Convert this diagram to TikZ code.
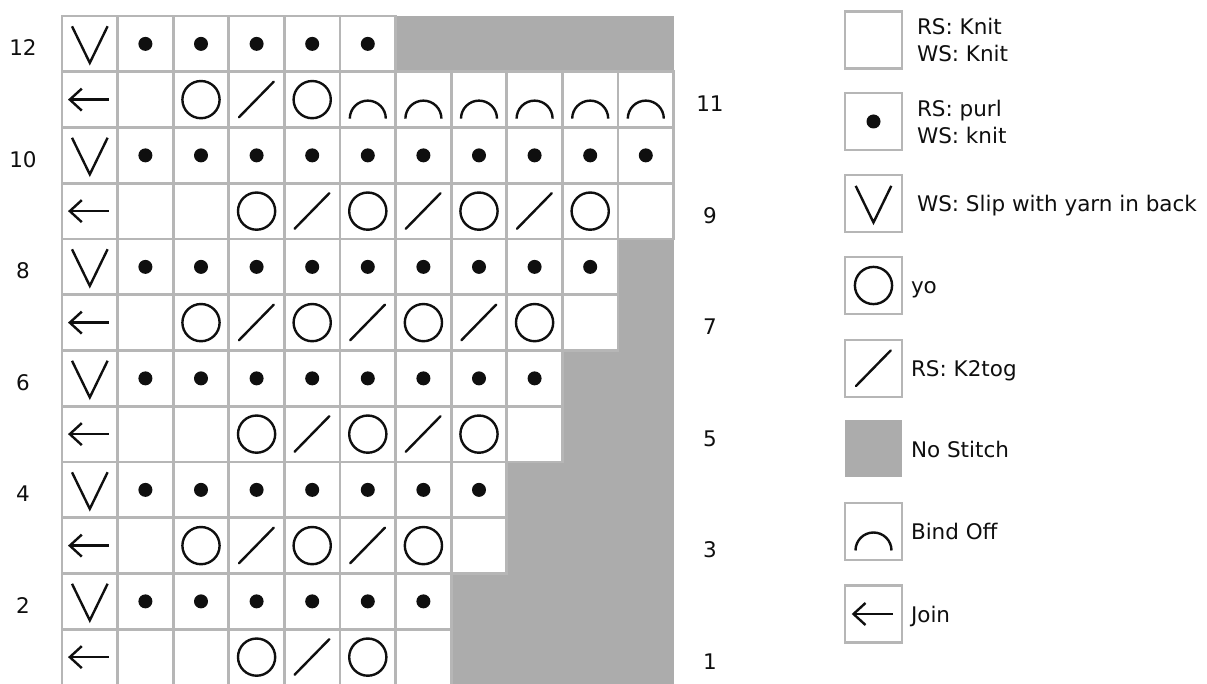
\documentclass[tikz,border=0pt]{standalone}
\usepackage{fontspec}
\setmainfont{DejaVu Sans}
\definecolor{gridc}{RGB}{182,182,182}
\definecolor{nost}{RGB}{172,172,172}
\definecolor{ink}{RGB}{15,15,15}
\tikzset{
  sym/.style={draw=ink, line width=1.2pt},
  cellbase/.style={minimum width=27.8pt, minimum height=27.875pt, inner sep=0pt, outer sep=0pt},
  whitecell/.style={cellbase, fill=white},
  graycell/.style={cellbase, fill=nost},
  cf-V/.style={whitecell}, cf-D/.style={whitecell}, cf-O/.style={whitecell},
  cf-S/.style={whitecell}, cf-A/.style={whitecell}, cf-L/.style={whitecell},
  cf-K/.style={whitecell}, cf-G/.style={graycell},
  gridline/.style={draw=gridc, line width=1.4pt},
  bd-V/.style={gridline}, bd-D/.style={gridline}, bd-O/.style={gridline},
  bd-S/.style={gridline}, bd-A/.style={gridline}, bd-L/.style={gridline},
  bd-K/.style={gridline}, bd-G/.style={},
  legbox/.style={minimum width=28.5pt, minimum height=28.5pt, inner sep=0pt, outer sep=0pt, fill=white, draw=gridc, line width=1.4pt},
  leggray/.style={minimum width=28.5pt, minimum height=28.5pt, inner sep=0pt, outer sep=0pt, fill=nost},
  txt/.style={font=\fontsize{10.75pt}{13.5pt}\selectfont, text=ink, inner sep=0pt, outer sep=0pt},
  pics/sym-V/.style={code={\draw[sym] (-8.9pt,8.8pt) -- (0pt,-9.5pt) -- (8.9pt,8.8pt);}},
  pics/sym-D/.style={code={\fill[ink] (0pt,0pt) circle[radius=3.5pt];}},
  pics/sym-O/.style={code={\draw[sym] (0pt,0pt) circle[radius=9.3pt];}},
  pics/sym-S/.style={code={\draw[sym, line cap=round] (-8.8pt,-8.8pt) -- (8.6pt,9pt);}},
  pics/sym-A/.style={code={\draw[sym] (-9pt,-9.5pt) arc[start angle=180,end angle=0,radius=9pt];}},
  pics/sym-L/.style={code={\draw[sym] (9.5pt,0pt) -- (-10pt,0pt); \draw[sym] (-4pt,5.5pt) -- (-10pt,0pt) -- (-4pt,-5.5pt);}},
  pics/sym-K/.style={code={}},
  pics/sym-G/.style={code={}},
}
\begin{document}
\begin{tikzpicture}[x=0.5pt,y=-0.5pt]
\useasboundingbox[fill=white] (0,0) rectangle (1207,684);
% chart cells
\foreach \rowno/\rowcodes in {
  12/{V,D,D,D,D,D,G,G,G,G,G},
  11/{L,K,O,S,O,A,A,A,A,A,A},
  10/{V,D,D,D,D,D,D,D,D,D,D},
  9/{L,K,K,O,S,O,S,O,S,O,K},
  8/{V,D,D,D,D,D,D,D,D,D,G},
  7/{L,K,O,S,O,S,O,S,O,K,G},
  6/{V,D,D,D,D,D,D,D,D,G,G},
  5/{L,K,K,O,S,O,S,O,K,G,G},
  4/{V,D,D,D,D,D,D,D,G,G,G},
  3/{L,K,O,S,O,S,O,K,G,G,G},
  2/{V,D,D,D,D,D,D,G,G,G,G},
  1/{L,K,K,O,S,O,K,G,G,G,G}} {
  \foreach \k [count=\colno] in \rowcodes {
    \node[cf-\k] (r\rowno-\colno) at ({62+55.6*(\colno-0.5)},{16+55.75*(12-\rowno+0.5)}) {};
  }
}
\foreach \rowno/\rowcodes in {
  12/{V,D,D,D,D,D,G,G,G,G,G},
  11/{L,K,O,S,O,A,A,A,A,A,A},
  10/{V,D,D,D,D,D,D,D,D,D,D},
  9/{L,K,K,O,S,O,S,O,S,O,K},
  8/{V,D,D,D,D,D,D,D,D,D,G},
  7/{L,K,O,S,O,S,O,S,O,K,G},
  6/{V,D,D,D,D,D,D,D,D,G,G},
  5/{L,K,K,O,S,O,S,O,K,G,G},
  4/{V,D,D,D,D,D,D,D,G,G,G},
  3/{L,K,O,S,O,S,O,K,G,G,G},
  2/{V,D,D,D,D,D,D,G,G,G,G},
  1/{L,K,K,O,S,O,K,G,G,G,G}} {
  \foreach \k [count=\colno] in \rowcodes {
    \path[bd-\k] (r\rowno-\colno.north west) rectangle (r\rowno-\colno.south east);
    \pic at (r\rowno-\colno.center) {sym-\k};
  }
}
% row numbers
\foreach \rowno in {12,10,8,6,4,2} {
  \node[txt, anchor=base] (lab\rowno) at (23,{16+55.75*(12-\rowno+0.5)+12}) {\rowno};
}
\foreach \rowno in {11,9,7,5,3,1} {
  \node[txt, anchor=base] (lab\rowno) at (710,{16+55.75*(12-\rowno+0.5)+12}) {\rowno};
}
% legend
\node[legbox] (leg1) at (873.5,40) {};
\node[legbox] (leg2) at (873.5,121.5) {};
\node[legbox] (leg3) at (873.5,203.5) {};
\node[legbox] (leg4) at (873.5,285.5) {};
\node[legbox] (leg5) at (873.5,368.5) {};
\node[leggray] (leg6) at (873.5,449) {};
\node[legbox] (leg7) at (873.5,531.5) {};
\node[legbox] (leg8) at (873.5,614) {};
\pic at (leg2.center) {sym-D};
\pic at (leg3.center) {sym-V};
\pic at (leg4.center) {sym-O};
\pic at (leg5.center) {sym-S};
\pic at (leg7.center) {sym-A};
\pic at (leg8.center) {sym-L};
\node[txt, anchor=base west] (t1a) at (917,35) {RS: Knit};
\node[txt, anchor=base west] (t1b) at (917,62) {WS: Knit};
\node[txt, anchor=base west] (t2a) at (917,117) {RS: purl};
\node[txt, anchor=base west] (t2b) at (917,144) {WS: knit};
\node[txt, anchor=base west] (t3) at (917,212) {WS: Slip with yarn in back};
\node[txt, anchor=base west] (t4) at (911,294) {yo};
\node[txt, anchor=base west] (t5) at (911,377) {RS: K2tog};
\node[txt, anchor=base west] (t6) at (911,458) {No Stitch};
\node[txt, anchor=base west] (t7) at (911,540) {Bind Off};
\node[txt, anchor=base west] (t8) at (911,623) {Join};
\end{tikzpicture}
\end{document}
